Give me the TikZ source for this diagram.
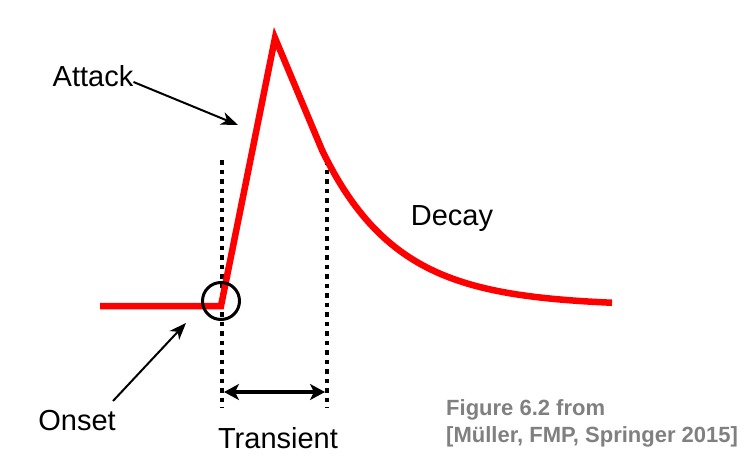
\documentclass[tikz,border=0pt]{standalone}
\usepackage{fontspec}
\setmainfont{Liberation Sans}
\usetikzlibrary{arrows.meta}
\definecolor{curvered}{RGB}{255,0,0}
\definecolor{refgray}{RGB}{128,128,128}
\tikzset{
  lbl/.style={font=\fontsize{29}{32}\selectfont, inner sep=0pt},
  refl/.style={font=\fontsize{22}{24}\selectfont\bfseries, text=refgray, inner sep=0pt, anchor=west},
  envelope/.style={curvered, line width=6.5pt},
  guide/.style={line width=4.5pt, dash pattern=on 4.5pt off 5pt},
  pointer/.style={line width=2pt, -{Stealth[length=17pt,width=13pt,inset=5pt]}},
  span/.style={line width=4pt, {Stealth[length=15pt,width=16pt,inset=4pt]}-{Stealth[length=15pt,width=16pt,inset=4pt]}}
}
\begin{document}
\begin{tikzpicture}[x=1pt,y=-1pt]
\useasboundingbox[fill=white] (0,0) rectangle (752,458);
% key points
\coordinate (start) at (100,306);
\coordinate (onset) at (221,306);
\coordinate (peak) at (275,38);
\coordinate (knee) at (322,150);
% dotted guides
\coordinate (g1top) at (222,160);
\coordinate (g1bot) at (222,408);
\coordinate (g2top) at (327,160);
\coordinate (g2bot) at (327,408);
\draw[guide] (g1top) -- (g1bot);
\draw[guide] (g2top) -- (g2bot);
% envelope
\draw[envelope, line join=miter] (start) -- (onset) -- (peak) -- (knee)
  -- plot[domain=322:612, samples=90, smooth] (\x, {306-156*exp(-(\x-322)/75)});
% onset circle
\node[circle, draw, line width=3pt, minimum size=37pt, inner sep=0pt] (ring) at (221,301) {};
% labels
\node[lbl] (attack) at (93,76) {Attack};
\node[lbl] (decay) at (452,219) {Decay};
\node[lbl] (onsetlbl) at (77,421) {Onset};
\node[lbl] (transient) at (278,438) {Transient};
\node[refl] (ref1) at (446,410) {Figure 6.2 from};
\node[refl] (ref2) at (446,437) {[Müller, FMP, Springer 2015]};
% arrows
\coordinate (atip) at (238,125);
\coordinate (otail) at (113,401);
\coordinate (otip) at (186,323);
\draw[pointer] (attack.east) ++(0,6) -- (atip);
\draw[pointer] (otail) -- (otip);
\coordinate (s1) at (224,392);
\coordinate (s2) at (325,392);
\draw[span] (s1) -- (s2);
\end{tikzpicture}
\end{document}
